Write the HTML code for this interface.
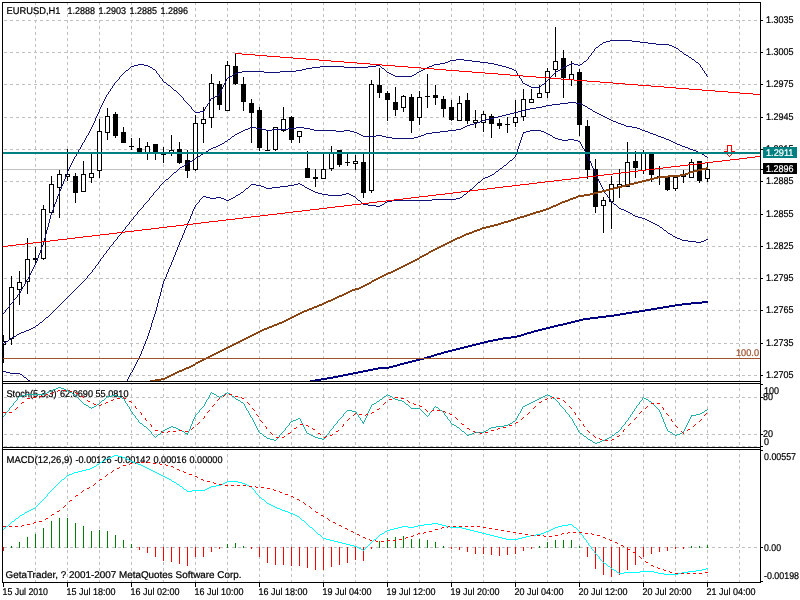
<!DOCTYPE html><html><head><meta charset="utf-8"><title>EURUSD,H1</title><style>html,body{margin:0;padding:0;background:#fff;}svg{display:block;will-change:transform}text{font-family:"Liberation Sans",sans-serif;font-size:9.8px;fill:#000;stroke:#000;stroke-width:.22px;text-rendering:geometricPrecision}</style></head><body>
<svg width="800" height="600" viewBox="0 0 800 600" shape-rendering="crispEdges">
<rect x="0" y="0" width="800" height="600" fill="#fff"/>
<g stroke="#c0c0c0" stroke-width="1" stroke-dasharray="3 3" fill="none">
<line x1="35.5" y1="2" x2="35.5" y2="381"/>
<line x1="35.5" y1="384" x2="35.5" y2="447" stroke-dashoffset="2"/>
<line x1="35.5" y1="450" x2="35.5" y2="582" stroke-dashoffset="2"/>
<line x1="67.5" y1="2" x2="67.5" y2="381"/>
<line x1="67.5" y1="384" x2="67.5" y2="447" stroke-dashoffset="2"/>
<line x1="67.5" y1="450" x2="67.5" y2="582" stroke-dashoffset="2"/>
<line x1="99.5" y1="2" x2="99.5" y2="381"/>
<line x1="99.5" y1="384" x2="99.5" y2="447" stroke-dashoffset="2"/>
<line x1="99.5" y1="450" x2="99.5" y2="582" stroke-dashoffset="2"/>
<line x1="131.5" y1="2" x2="131.5" y2="381"/>
<line x1="131.5" y1="384" x2="131.5" y2="447" stroke-dashoffset="2"/>
<line x1="131.5" y1="450" x2="131.5" y2="582" stroke-dashoffset="2"/>
<line x1="163.5" y1="2" x2="163.5" y2="381"/>
<line x1="163.5" y1="384" x2="163.5" y2="447" stroke-dashoffset="2"/>
<line x1="163.5" y1="450" x2="163.5" y2="582" stroke-dashoffset="2"/>
<line x1="195.5" y1="2" x2="195.5" y2="381"/>
<line x1="195.5" y1="384" x2="195.5" y2="447" stroke-dashoffset="2"/>
<line x1="195.5" y1="450" x2="195.5" y2="582" stroke-dashoffset="2"/>
<line x1="227.5" y1="2" x2="227.5" y2="381"/>
<line x1="227.5" y1="384" x2="227.5" y2="447" stroke-dashoffset="2"/>
<line x1="227.5" y1="450" x2="227.5" y2="582" stroke-dashoffset="2"/>
<line x1="259.5" y1="2" x2="259.5" y2="381"/>
<line x1="259.5" y1="384" x2="259.5" y2="447" stroke-dashoffset="2"/>
<line x1="259.5" y1="450" x2="259.5" y2="582" stroke-dashoffset="2"/>
<line x1="291.5" y1="2" x2="291.5" y2="381"/>
<line x1="291.5" y1="384" x2="291.5" y2="447" stroke-dashoffset="2"/>
<line x1="291.5" y1="450" x2="291.5" y2="582" stroke-dashoffset="2"/>
<line x1="323.5" y1="2" x2="323.5" y2="381"/>
<line x1="323.5" y1="384" x2="323.5" y2="447" stroke-dashoffset="2"/>
<line x1="323.5" y1="450" x2="323.5" y2="582" stroke-dashoffset="2"/>
<line x1="355.5" y1="2" x2="355.5" y2="381"/>
<line x1="355.5" y1="384" x2="355.5" y2="447" stroke-dashoffset="2"/>
<line x1="355.5" y1="450" x2="355.5" y2="582" stroke-dashoffset="2"/>
<line x1="387.5" y1="2" x2="387.5" y2="381"/>
<line x1="387.5" y1="384" x2="387.5" y2="447" stroke-dashoffset="2"/>
<line x1="387.5" y1="450" x2="387.5" y2="582" stroke-dashoffset="2"/>
<line x1="419.5" y1="2" x2="419.5" y2="381"/>
<line x1="419.5" y1="384" x2="419.5" y2="447" stroke-dashoffset="2"/>
<line x1="419.5" y1="450" x2="419.5" y2="582" stroke-dashoffset="2"/>
<line x1="451.5" y1="2" x2="451.5" y2="381"/>
<line x1="451.5" y1="384" x2="451.5" y2="447" stroke-dashoffset="2"/>
<line x1="451.5" y1="450" x2="451.5" y2="582" stroke-dashoffset="2"/>
<line x1="483.5" y1="2" x2="483.5" y2="381"/>
<line x1="483.5" y1="384" x2="483.5" y2="447" stroke-dashoffset="2"/>
<line x1="483.5" y1="450" x2="483.5" y2="582" stroke-dashoffset="2"/>
<line x1="515.5" y1="2" x2="515.5" y2="381"/>
<line x1="515.5" y1="384" x2="515.5" y2="447" stroke-dashoffset="2"/>
<line x1="515.5" y1="450" x2="515.5" y2="582" stroke-dashoffset="2"/>
<line x1="547.5" y1="2" x2="547.5" y2="381"/>
<line x1="547.5" y1="384" x2="547.5" y2="447" stroke-dashoffset="2"/>
<line x1="547.5" y1="450" x2="547.5" y2="582" stroke-dashoffset="2"/>
<line x1="579.5" y1="2" x2="579.5" y2="381"/>
<line x1="579.5" y1="384" x2="579.5" y2="447" stroke-dashoffset="2"/>
<line x1="579.5" y1="450" x2="579.5" y2="582" stroke-dashoffset="2"/>
<line x1="611.5" y1="2" x2="611.5" y2="381"/>
<line x1="611.5" y1="384" x2="611.5" y2="447" stroke-dashoffset="2"/>
<line x1="611.5" y1="450" x2="611.5" y2="582" stroke-dashoffset="2"/>
<line x1="643.5" y1="2" x2="643.5" y2="381"/>
<line x1="643.5" y1="384" x2="643.5" y2="447" stroke-dashoffset="2"/>
<line x1="643.5" y1="450" x2="643.5" y2="582" stroke-dashoffset="2"/>
<line x1="675.5" y1="2" x2="675.5" y2="381"/>
<line x1="675.5" y1="384" x2="675.5" y2="447" stroke-dashoffset="2"/>
<line x1="675.5" y1="450" x2="675.5" y2="582" stroke-dashoffset="2"/>
<line x1="707.5" y1="2" x2="707.5" y2="381"/>
<line x1="707.5" y1="384" x2="707.5" y2="447" stroke-dashoffset="2"/>
<line x1="707.5" y1="450" x2="707.5" y2="582" stroke-dashoffset="2"/>
<line x1="739.5" y1="2" x2="739.5" y2="381"/>
<line x1="739.5" y1="384" x2="739.5" y2="447" stroke-dashoffset="2"/>
<line x1="739.5" y1="450" x2="739.5" y2="582" stroke-dashoffset="2"/>
<line x1="4" y1="20.5" x2="760" y2="20.5"/>
<line x1="4" y1="52.5" x2="760" y2="52.5"/>
<line x1="4" y1="84.5" x2="760" y2="84.5"/>
<line x1="4" y1="117.5" x2="760" y2="117.5"/>
<line x1="4" y1="149.5" x2="760" y2="149.5"/>
<line x1="4" y1="181.5" x2="760" y2="181.5"/>
<line x1="4" y1="214.5" x2="760" y2="214.5"/>
<line x1="4" y1="246.5" x2="760" y2="246.5"/>
<line x1="4" y1="278.5" x2="760" y2="278.5"/>
<line x1="4" y1="310.5" x2="760" y2="310.5"/>
<line x1="4" y1="343.5" x2="760" y2="343.5"/>
<line x1="4" y1="375.5" x2="760" y2="375.5"/>
<line x1="4" y1="397.5" x2="760" y2="397.5"/>
<line x1="4" y1="434.5" x2="760" y2="434.5"/>
<line x1="4" y1="446.5" x2="760" y2="446.5"/>
<line x1="4" y1="547.5" x2="760" y2="547.5"/>
</g>
<rect x="3" y="169" width="757" height="1" fill="#c0c0c0"/>
<defs><clipPath id="cm"><rect x="3" y="3" width="757" height="378"/></clipPath><clipPath id="cs"><rect x="3" y="384" width="757" height="63"/></clipPath><clipPath id="cd"><rect x="3" y="450" width="757" height="132"/></clipPath></defs>
<g clip-path="url(#cm)">
<rect x="3" y="335" width="1" height="28" fill="#000"/>
<rect x="1" y="341" width="5" height="4" fill="#000"/>
<rect x="2" y="342" width="3" height="2" fill="#fff"/>
<rect x="11" y="276" width="1" height="69" fill="#000"/>
<rect x="9" y="287" width="5" height="52" fill="#000"/>
<rect x="10" y="288" width="3" height="50" fill="#fff"/>
<rect x="19" y="271" width="1" height="34" fill="#000"/>
<rect x="17" y="282" width="5" height="8" fill="#000"/>
<rect x="18" y="283" width="3" height="6" fill="#fff"/>
<rect x="27" y="238" width="1" height="56" fill="#000"/>
<rect x="25" y="259" width="5" height="23" fill="#000"/>
<rect x="26" y="260" width="3" height="21" fill="#fff"/>
<rect x="35" y="247" width="1" height="18" fill="#000"/>
<rect x="33" y="258" width="5" height="2" fill="#000"/>
<rect x="43" y="205" width="1" height="55" fill="#000"/>
<rect x="41" y="209" width="5" height="50" fill="#000"/>
<rect x="42" y="210" width="3" height="48" fill="#fff"/>
<rect x="51" y="176" width="1" height="37" fill="#000"/>
<rect x="49" y="184" width="5" height="29" fill="#000"/>
<rect x="50" y="185" width="3" height="27" fill="#fff"/>
<rect x="59" y="170" width="1" height="48" fill="#000"/>
<rect x="57" y="174" width="5" height="14" fill="#000"/>
<rect x="58" y="175" width="3" height="12" fill="#fff"/>
<rect x="67" y="149" width="1" height="32" fill="#000"/>
<rect x="65" y="174" width="5" height="3" fill="#000"/>
<rect x="66" y="175" width="3" height="1" fill="#fff"/>
<rect x="75" y="173" width="1" height="30" fill="#000"/>
<rect x="73" y="176" width="5" height="17" fill="#000"/>
<rect x="83" y="161" width="1" height="31" fill="#000"/>
<rect x="81" y="174" width="5" height="18" fill="#000"/>
<rect x="82" y="175" width="3" height="16" fill="#fff"/>
<rect x="91" y="154" width="1" height="29" fill="#000"/>
<rect x="89" y="173" width="5" height="5" fill="#000"/>
<rect x="90" y="174" width="3" height="3" fill="#fff"/>
<rect x="99" y="119" width="1" height="59" fill="#000"/>
<rect x="97" y="131" width="5" height="40" fill="#000"/>
<rect x="98" y="132" width="3" height="38" fill="#fff"/>
<rect x="107" y="108" width="1" height="32" fill="#000"/>
<rect x="105" y="116" width="5" height="17" fill="#000"/>
<rect x="106" y="117" width="3" height="15" fill="#fff"/>
<rect x="115" y="112" width="1" height="26" fill="#000"/>
<rect x="113" y="114" width="5" height="22" fill="#000"/>
<rect x="123" y="127" width="1" height="16" fill="#000"/>
<rect x="121" y="132" width="5" height="11" fill="#000"/>
<rect x="131" y="138" width="1" height="12" fill="#000"/>
<rect x="129" y="146" width="5" height="1" fill="#000"/>
<rect x="139" y="138" width="1" height="16" fill="#000"/>
<rect x="137" y="148" width="5" height="6" fill="#000"/>
<rect x="147" y="142" width="1" height="18" fill="#000"/>
<rect x="145" y="146" width="5" height="7" fill="#000"/>
<rect x="146" y="147" width="3" height="5" fill="#fff"/>
<rect x="155" y="144" width="1" height="16" fill="#000"/>
<rect x="153" y="144" width="5" height="9" fill="#000"/>
<rect x="163" y="147" width="1" height="16" fill="#000"/>
<rect x="161" y="154" width="5" height="1" fill="#000"/>
<rect x="171" y="135" width="1" height="21" fill="#000"/>
<rect x="169" y="150" width="5" height="4" fill="#000"/>
<rect x="170" y="151" width="3" height="2" fill="#fff"/>
<rect x="179" y="142" width="1" height="22" fill="#000"/>
<rect x="177" y="149" width="5" height="14" fill="#000"/>
<rect x="187" y="150" width="1" height="28" fill="#000"/>
<rect x="185" y="160" width="5" height="11" fill="#000"/>
<rect x="195" y="115" width="1" height="56" fill="#000"/>
<rect x="193" y="123" width="5" height="47" fill="#000"/>
<rect x="194" y="124" width="3" height="45" fill="#fff"/>
<rect x="203" y="107" width="1" height="36" fill="#000"/>
<rect x="201" y="119" width="5" height="5" fill="#000"/>
<rect x="202" y="120" width="3" height="3" fill="#fff"/>
<rect x="211" y="74" width="1" height="54" fill="#000"/>
<rect x="209" y="83" width="5" height="35" fill="#000"/>
<rect x="210" y="84" width="3" height="33" fill="#fff"/>
<rect x="219" y="81" width="1" height="29" fill="#000"/>
<rect x="217" y="84" width="5" height="21" fill="#000"/>
<rect x="227" y="61" width="1" height="50" fill="#000"/>
<rect x="225" y="65" width="5" height="46" fill="#000"/>
<rect x="226" y="66" width="3" height="44" fill="#fff"/>
<rect x="235" y="53" width="1" height="32" fill="#000"/>
<rect x="233" y="66" width="5" height="18" fill="#000"/>
<rect x="243" y="77" width="1" height="34" fill="#000"/>
<rect x="241" y="84" width="5" height="18" fill="#000"/>
<rect x="251" y="99" width="1" height="44" fill="#000"/>
<rect x="249" y="103" width="5" height="10" fill="#000"/>
<rect x="259" y="107" width="1" height="44" fill="#000"/>
<rect x="257" y="110" width="5" height="38" fill="#000"/>
<rect x="267" y="130" width="1" height="21" fill="#000"/>
<rect x="265" y="150" width="5" height="1" fill="#000"/>
<rect x="275" y="127" width="1" height="24" fill="#000"/>
<rect x="273" y="127" width="5" height="23" fill="#000"/>
<rect x="274" y="128" width="3" height="21" fill="#fff"/>
<rect x="283" y="107" width="1" height="25" fill="#000"/>
<rect x="281" y="119" width="5" height="12" fill="#000"/>
<rect x="282" y="120" width="3" height="10" fill="#fff"/>
<rect x="291" y="116" width="1" height="27" fill="#000"/>
<rect x="289" y="117" width="5" height="23" fill="#000"/>
<rect x="299" y="131" width="1" height="12" fill="#000"/>
<rect x="297" y="131" width="5" height="6" fill="#000"/>
<rect x="298" y="132" width="3" height="4" fill="#fff"/>
<rect x="307" y="151" width="1" height="27" fill="#000"/>
<rect x="305" y="168" width="5" height="10" fill="#000"/>
<rect x="315" y="169" width="1" height="18" fill="#000"/>
<rect x="313" y="177" width="5" height="2" fill="#000"/>
<rect x="323" y="154" width="1" height="25" fill="#000"/>
<rect x="321" y="169" width="5" height="10" fill="#000"/>
<rect x="322" y="170" width="3" height="8" fill="#fff"/>
<rect x="331" y="146" width="1" height="25" fill="#000"/>
<rect x="329" y="153" width="5" height="16" fill="#000"/>
<rect x="330" y="154" width="3" height="14" fill="#fff"/>
<rect x="339" y="150" width="1" height="17" fill="#000"/>
<rect x="337" y="150" width="5" height="15" fill="#000"/>
<rect x="347" y="154" width="1" height="12" fill="#000"/>
<rect x="345" y="162" width="5" height="1" fill="#000"/>
<rect x="355" y="155" width="1" height="15" fill="#000"/>
<rect x="353" y="161" width="5" height="3" fill="#000"/>
<rect x="354" y="162" width="3" height="1" fill="#fff"/>
<rect x="363" y="154" width="1" height="44" fill="#000"/>
<rect x="361" y="162" width="5" height="31" fill="#000"/>
<rect x="371" y="80" width="1" height="113" fill="#000"/>
<rect x="369" y="84" width="5" height="107" fill="#000"/>
<rect x="370" y="85" width="3" height="105" fill="#fff"/>
<rect x="379" y="68" width="1" height="30" fill="#000"/>
<rect x="377" y="85" width="5" height="8" fill="#000"/>
<rect x="387" y="91" width="1" height="30" fill="#000"/>
<rect x="385" y="93" width="5" height="7" fill="#000"/>
<rect x="395" y="87" width="1" height="29" fill="#000"/>
<rect x="393" y="102" width="5" height="8" fill="#000"/>
<rect x="403" y="95" width="1" height="17" fill="#000"/>
<rect x="401" y="96" width="5" height="12" fill="#000"/>
<rect x="402" y="97" width="3" height="10" fill="#fff"/>
<rect x="411" y="94" width="1" height="39" fill="#000"/>
<rect x="409" y="97" width="5" height="24" fill="#000"/>
<rect x="419" y="91" width="1" height="34" fill="#000"/>
<rect x="417" y="97" width="5" height="21" fill="#000"/>
<rect x="418" y="98" width="3" height="19" fill="#fff"/>
<rect x="427" y="74" width="1" height="34" fill="#000"/>
<rect x="425" y="96" width="5" height="1" fill="#000"/>
<rect x="435" y="85" width="1" height="20" fill="#000"/>
<rect x="433" y="95" width="5" height="3" fill="#000"/>
<rect x="443" y="96" width="1" height="21" fill="#000"/>
<rect x="441" y="99" width="5" height="10" fill="#000"/>
<rect x="451" y="100" width="1" height="21" fill="#000"/>
<rect x="449" y="107" width="5" height="13" fill="#000"/>
<rect x="459" y="96" width="1" height="25" fill="#000"/>
<rect x="457" y="103" width="5" height="18" fill="#000"/>
<rect x="458" y="104" width="3" height="16" fill="#fff"/>
<rect x="467" y="93" width="1" height="31" fill="#000"/>
<rect x="465" y="100" width="5" height="21" fill="#000"/>
<rect x="475" y="110" width="1" height="18" fill="#000"/>
<rect x="473" y="120" width="5" height="3" fill="#000"/>
<rect x="474" y="121" width="3" height="1" fill="#fff"/>
<rect x="483" y="111" width="1" height="21" fill="#000"/>
<rect x="481" y="114" width="5" height="9" fill="#000"/>
<rect x="482" y="115" width="3" height="7" fill="#fff"/>
<rect x="491" y="114" width="1" height="24" fill="#000"/>
<rect x="489" y="116" width="5" height="8" fill="#000"/>
<rect x="499" y="119" width="1" height="10" fill="#000"/>
<rect x="497" y="123" width="5" height="3" fill="#000"/>
<rect x="507" y="117" width="1" height="16" fill="#000"/>
<rect x="505" y="124" width="5" height="1" fill="#000"/>
<rect x="515" y="100" width="1" height="27" fill="#000"/>
<rect x="513" y="117" width="5" height="6" fill="#000"/>
<rect x="514" y="118" width="3" height="4" fill="#fff"/>
<rect x="523" y="89" width="1" height="32" fill="#000"/>
<rect x="521" y="99" width="5" height="18" fill="#000"/>
<rect x="522" y="100" width="3" height="16" fill="#fff"/>
<rect x="531" y="89" width="1" height="14" fill="#000"/>
<rect x="529" y="99" width="5" height="4" fill="#000"/>
<rect x="530" y="100" width="3" height="2" fill="#fff"/>
<rect x="539" y="85" width="1" height="13" fill="#000"/>
<rect x="537" y="93" width="5" height="5" fill="#000"/>
<rect x="538" y="94" width="3" height="3" fill="#fff"/>
<rect x="547" y="68" width="1" height="30" fill="#000"/>
<rect x="545" y="71" width="5" height="22" fill="#000"/>
<rect x="546" y="72" width="3" height="20" fill="#fff"/>
<rect x="555" y="27" width="1" height="50" fill="#000"/>
<rect x="553" y="61" width="5" height="9" fill="#000"/>
<rect x="554" y="62" width="3" height="7" fill="#fff"/>
<rect x="563" y="50" width="1" height="48" fill="#000"/>
<rect x="561" y="58" width="5" height="20" fill="#000"/>
<rect x="571" y="61" width="1" height="25" fill="#000"/>
<rect x="569" y="74" width="5" height="6" fill="#000"/>
<rect x="570" y="75" width="3" height="4" fill="#fff"/>
<rect x="579" y="69" width="1" height="67" fill="#000"/>
<rect x="577" y="72" width="5" height="53" fill="#000"/>
<rect x="587" y="120" width="1" height="59" fill="#000"/>
<rect x="585" y="126" width="5" height="44" fill="#000"/>
<rect x="595" y="159" width="1" height="54" fill="#000"/>
<rect x="593" y="169" width="5" height="38" fill="#000"/>
<rect x="603" y="197" width="1" height="36" fill="#000"/>
<rect x="601" y="200" width="5" height="6" fill="#000"/>
<rect x="602" y="201" width="3" height="4" fill="#fff"/>
<rect x="611" y="176" width="1" height="53" fill="#000"/>
<rect x="609" y="184" width="5" height="18" fill="#000"/>
<rect x="610" y="185" width="3" height="16" fill="#fff"/>
<rect x="619" y="169" width="1" height="29" fill="#000"/>
<rect x="617" y="184" width="5" height="4" fill="#000"/>
<rect x="618" y="185" width="3" height="2" fill="#fff"/>
<rect x="627" y="142" width="1" height="45" fill="#000"/>
<rect x="625" y="162" width="5" height="25" fill="#000"/>
<rect x="626" y="163" width="3" height="23" fill="#fff"/>
<rect x="635" y="151" width="1" height="27" fill="#000"/>
<rect x="633" y="161" width="5" height="7" fill="#000"/>
<rect x="643" y="150" width="1" height="24" fill="#000"/>
<rect x="641" y="152" width="5" height="19" fill="#000"/>
<rect x="642" y="153" width="3" height="17" fill="#fff"/>
<rect x="651" y="153" width="1" height="29" fill="#000"/>
<rect x="649" y="153" width="5" height="22" fill="#000"/>
<rect x="659" y="166" width="1" height="19" fill="#000"/>
<rect x="657" y="176" width="5" height="1" fill="#000"/>
<rect x="667" y="177" width="1" height="14" fill="#000"/>
<rect x="665" y="177" width="5" height="13" fill="#000"/>
<rect x="675" y="176" width="1" height="15" fill="#000"/>
<rect x="673" y="177" width="5" height="12" fill="#000"/>
<rect x="674" y="178" width="3" height="10" fill="#fff"/>
<rect x="683" y="170" width="1" height="13" fill="#000"/>
<rect x="681" y="174" width="5" height="3" fill="#000"/>
<rect x="691" y="159" width="1" height="19" fill="#000"/>
<rect x="689" y="162" width="5" height="16" fill="#000"/>
<rect x="690" y="163" width="3" height="14" fill="#fff"/>
<rect x="699" y="161" width="1" height="22" fill="#000"/>
<rect x="697" y="161" width="5" height="20" fill="#000"/>
<rect x="707" y="162" width="1" height="20" fill="#000"/>
<rect x="705" y="169" width="5" height="10" fill="#000"/>
<rect x="706" y="170" width="3" height="8" fill="#fff"/>
</g>
<path d="M610 40h22M606 41h4M632 41h8M603 42h3M640 42h8M602 43h1M648 43h8M600 44h2M656 44h13M599 45h1M669 45h3M598 46h1M672 46h2M596 47h2M674 47h2M595 48h1M676 48h2M594 49h1M678 49h1M594 50h1M679 50h1M593 51h1M680 51h2M592 52h1M682 52h1M591 53h1M683 53h1M591 54h1M684 54h2M590 55h1M686 55h2M589 56h1M688 56h1M588 57h1M689 57h2M588 58h1M691 58h1M456 59h8M587 59h1M692 59h2M450 60h6M464 60h8M586 60h1M694 60h1M448 61h2M472 61h8M584 61h2M695 61h1M445 62h3M480 62h8M583 62h1M696 62h2M440 63h5M488 63h6M571 63h3M582 63h1M698 63h1M138 64h6M434 64h6M494 64h4M569 64h2M574 64h4M580 64h2M699 64h1M134 65h4M144 65h4M376 65h4M432 65h2M498 65h4M567 65h2M578 65h2M700 65h1M131 66h3M148 66h2M320 66h24M368 66h8M380 66h1M429 66h3M502 66h4M565 66h2M700 66h1M130 67h1M150 67h2M312 67h8M344 67h24M381 67h1M427 67h2M506 67h3M563 67h2M701 67h1M129 68h1M152 68h1M306 68h6M382 68h2M425 68h2M509 68h3M561 68h2M702 68h1M128 69h1M153 69h2M302 69h4M384 69h1M423 69h2M512 69h2M560 69h1M702 69h1M126 70h2M155 70h1M296 70h6M385 70h1M421 70h2M514 70h2M558 70h2M703 70h1M125 71h1M156 71h1M242 71h22M280 71h16M386 71h1M419 71h2M516 71h1M556 71h2M704 71h1M124 72h1M156 72h1M238 72h4M264 72h16M387 72h2M417 72h2M516 72h1M555 72h1M704 72h1M123 73h1M157 73h1M235 73h3M389 73h2M416 73h1M517 73h1M554 73h1M705 73h1M122 74h1M158 74h1M233 74h2M391 74h2M414 74h2M517 74h1M553 74h1M706 74h1M121 75h1M159 75h1M232 75h1M393 75h2M412 75h2M518 75h1M552 75h1M706 75h1M120 76h1M159 76h1M230 76h2M395 76h17M519 76h1M551 76h1M707 76h1M119 77h1M160 77h1M228 77h2M519 77h1M550 77h1M119 78h1M161 78h1M227 78h1M520 78h1M549 78h1M118 79h1M162 79h1M226 79h1M521 79h1M548 79h1M117 80h1M162 80h1M226 80h1M521 80h1M547 80h1M116 81h1M163 81h1M225 81h1M522 81h1M546 81h1M115 82h1M164 82h2M225 82h1M522 82h1M545 82h1M114 83h1M166 83h1M224 83h1M523 83h2M544 83h1M114 84h1M167 84h1M224 84h1M525 84h2M542 84h2M113 85h1M168 85h2M223 85h1M527 85h2M541 85h1M112 86h1M170 86h1M223 86h1M529 86h2M540 86h1M112 87h1M171 87h1M222 87h1M531 87h9M111 88h1M172 88h1M222 88h1M110 89h1M173 89h1M221 89h1M110 90h1M174 90h2M221 90h1M109 91h1M176 91h1M220 91h1M108 92h1M177 92h1M220 92h1M108 93h1M178 93h1M219 93h1M107 94h1M179 94h1M219 94h1M106 95h1M180 95h1M217 95h2M106 96h1M181 96h1M215 96h2M105 97h1M182 97h1M213 97h2M105 98h1M183 98h1M211 98h2M104 99h1M183 99h1M210 99h1M104 100h1M184 100h1M210 100h1M103 101h1M185 101h1M209 101h1M103 102h1M186 102h1M209 102h1M102 103h1M187 103h1M208 103h1M102 104h1M188 104h1M207 104h1M101 105h1M189 105h1M207 105h1M101 106h1M190 106h1M206 106h1M100 107h1M191 107h1M205 107h1M100 108h1M191 108h1M205 108h1M99 109h1M192 109h1M204 109h1M99 110h1M193 110h1M204 110h1M99 111h1M194 111h1M200 111h4M98 112h1M195 112h5M98 113h1M97 114h1M97 115h1M96 116h1M96 117h1M95 118h1M95 119h1M95 120h1M94 121h1M94 122h1M93 123h1M93 124h1M92 125h1M92 126h1M91 127h1M91 128h1M90 129h1M90 130h1M89 131h1M89 132h1M88 133h1M88 134h1M87 135h1M86 136h1M86 137h1M85 138h1M85 139h1M84 140h1M84 141h1M83 142h1M82 143h1M82 144h1M81 145h1M81 146h1M80 147h1M80 148h1M79 149h1M78 150h1M78 151h1M77 152h1M77 153h1M76 154h1M76 155h1M75 156h1M74 157h1M74 158h1M73 159h1M73 160h1M72 161h1M72 162h1M71 163h1M71 164h1M70 165h1M70 166h1M69 167h1M69 168h1M68 169h1M68 170h1M67 171h1M67 172h1M67 173h1M66 174h1M66 175h1M65 176h1M65 177h1M65 178h1M64 179h1M64 180h1M63 181h1M63 182h1M63 183h1M62 184h1M62 185h1M61 186h1M61 187h1M61 188h1M60 189h1M60 190h1M59 191h1M59 192h1M59 193h1M58 194h1M58 195h1M57 196h1M57 197h1M57 198h1M56 199h1M56 200h1M56 201h1M55 202h1M55 203h1M54 204h1M54 205h1M54 206h1M53 207h1M53 208h1M53 209h1M52 210h1M52 211h1M51 212h1M51 213h1M51 214h1M50 215h1M50 216h1M50 217h1M50 218h1M49 219h1M49 220h1M49 221h1M49 222h1M48 223h1M48 224h1M48 225h1M48 226h1M47 227h1M47 228h1M47 229h1M46 230h1M46 231h1M46 232h1M46 233h1M45 234h1M45 235h1M45 236h1M45 237h1M44 238h1M44 239h1M44 240h1M44 241h1M43 242h1M43 243h1M43 244h1M42 245h1M42 246h1M41 247h1M41 248h1M41 249h1M40 250h1M40 251h1M40 252h1M39 253h1M39 254h1M38 255h1M38 256h1M38 257h1M37 258h1M37 259h1M37 260h1M36 261h1M36 262h1M35 263h1M35 264h1M34 265h1M34 266h1M33 267h1M33 268h1M32 269h1M32 270h1M31 271h1M31 272h1M30 273h1M30 274h1M29 275h1M29 276h1M28 277h1M28 278h1M27 279h1M26 280h1M26 281h1M25 282h1M25 283h1M24 284h1M24 285h1M23 286h1M22 287h1M22 288h1M21 289h1M21 290h1M20 291h1M20 292h1M19 293h1M18 294h1M17 295h1M17 296h1M16 297h1M15 298h1M14 299h1M13 300h1M13 301h1M12 302h1M11 303h1M10 304h1M9 305h1M9 306h1M8 307h1M7 308h1M6 309h1M5 310h1M5 311h1M4 312h1M3 313h1" transform="translate(0,.5)" stroke="#101078" stroke-width="1" fill="none"/>
<path d="M568 102h8M560 103h8M576 103h5M552 104h8M581 104h2M546 105h6M583 105h2M542 106h4M585 106h2M536 107h6M587 107h1M530 108h6M588 108h2M526 109h4M590 109h2M522 110h4M592 110h1M518 111h4M593 111h2M514 112h4M595 112h2M510 113h4M597 113h2M506 114h4M599 114h2M502 115h4M601 115h2M498 116h4M603 116h2M494 117h4M605 117h2M490 118h4M607 118h2M486 119h4M609 119h2M482 120h4M611 120h2M480 121h2M613 121h3M477 122h3M616 122h2M474 123h3M618 123h3M470 124h4M621 124h3M467 125h3M624 125h2M465 126h2M626 126h6M250 127h6M296 127h8M463 127h2M632 127h5M248 128h2M256 128h6M288 128h8M304 128h6M461 128h2M637 128h3M245 129h3M262 129h4M272 129h16M310 129h4M456 129h5M640 129h2M243 130h2M266 130h6M314 130h22M344 130h6M448 130h8M642 130h3M241 131h2M336 131h8M350 131h4M440 131h8M645 131h3M239 132h2M354 132h3M432 132h8M648 132h2M237 133h2M357 133h2M426 133h6M650 133h3M235 134h2M359 134h2M424 134h2M653 134h3M234 135h1M361 135h2M376 135h6M421 135h3M656 135h2M232 136h2M363 136h13M382 136h4M418 136h3M658 136h3M231 137h1M386 137h6M414 137h4M661 137h3M230 138h1M392 138h22M664 138h2M228 139h2M666 139h3M227 140h1M669 140h2M225 141h2M671 141h2M224 142h1M673 142h2M222 143h2M675 143h2M220 144h2M677 144h3M218 145h2M680 145h2M216 146h2M682 146h3M213 147h3M685 147h3M211 148h2M688 148h2M209 149h2M690 149h3M208 150h1M693 150h3M206 151h2M696 151h2M204 152h2M698 152h2M203 153h1M700 153h2M201 154h2M702 154h2M200 155h1M704 155h1M198 156h2M705 156h2M196 157h2M707 157h1M195 158h1M193 159h2M192 160h1M190 161h2M188 162h2M187 163h1M185 164h2M184 165h1M182 166h2M180 167h2M179 168h1M178 169h1M177 170h1M176 171h1M174 172h2M173 173h1M172 174h1M171 175h1M170 176h1M169 177h1M168 178h1M166 179h2M165 180h1M164 181h1M163 182h1M162 183h1M161 184h1M160 185h1M159 186h1M159 187h1M158 188h1M157 189h1M156 190h1M155 191h1M154 192h1M153 193h1M153 194h1M152 195h1M151 196h1M150 197h1M149 198h1M149 199h1M148 200h1M147 201h1M146 202h1M145 203h1M144 204h1M143 205h1M143 206h1M142 207h1M141 208h1M140 209h1M139 210h1M138 211h1M137 212h1M137 213h1M136 214h1M135 215h1M134 216h1M133 217h1M133 218h1M132 219h1M131 220h1M130 221h1M129 222h1M129 223h1M128 224h1M127 225h1M126 226h1M125 227h1M125 228h1M124 229h1M123 230h1M122 231h1M121 232h1M121 233h1M120 234h1M119 235h1M118 236h1M117 237h1M117 238h1M116 239h1M115 240h1M114 241h1M113 242h1M113 243h1M112 244h1M111 245h1M110 246h1M109 247h1M109 248h1M108 249h1M107 250h1M106 251h1M106 252h1M105 253h1M104 254h1M103 255h1M103 256h1M102 257h1M101 258h1M100 259h1M100 260h1M99 261h1M98 262h1M98 263h1M97 264h1M96 265h1M95 266h1M95 267h1M94 268h1M93 269h1M92 270h1M92 271h1M91 272h1M90 273h1M89 274h1M88 275h1M87 276h1M87 277h1M86 278h1M85 279h1M84 280h1M83 281h1M82 282h1M81 283h1M80 284h1M79 285h1M78 286h1M77 287h1M76 288h1M75 289h1M74 290h1M73 291h1M72 292h1M71 293h1M70 294h1M69 295h1M68 296h1M67 297h1M66 298h1M65 299h1M64 300h1M63 301h1M62 302h1M61 303h1M60 304h1M59 305h1M58 306h1M57 307h1M56 308h1M55 309h1M54 310h1M53 311h1M52 312h1M51 313h1M50 314h1M49 315h1M48 316h1M46 317h2M45 318h1M44 319h1M43 320h1M42 321h1M40 322h2M39 323h1M38 324h1M36 325h2M35 326h1M33 327h2M31 328h2M29 329h2M26 330h3M24 331h2M21 332h3M19 333h2M17 334h2M16 335h1M14 336h2M12 337h2M11 338h1M9 339h2M8 340h1M6 341h2M4 342h2M3 343h1" transform="translate(0,.5)" stroke="#101078" stroke-width="1" fill="none"/>
<path d="M530 130h11M526 131h4M541 131h3M523 132h3M544 132h2M523 133h1M546 133h2M522 134h1M548 134h2M522 135h1M550 135h2M522 136h1M552 136h1M521 137h1M553 137h2M521 138h1M555 138h3M521 139h1M558 139h4M568 139h6M520 140h1M562 140h6M574 140h4M520 141h1M578 141h2M520 142h1M580 142h1M519 143h1M580 143h1M519 144h1M581 144h1M519 145h1M581 145h1M518 146h1M582 146h1M518 147h1M582 147h1M518 148h1M583 148h1M517 149h1M584 149h1M517 150h1M584 150h1M517 151h1M585 151h1M516 152h1M585 152h1M516 153h1M586 153h1M516 154h1M586 154h1M515 155h1M587 155h1M515 156h1M587 156h1M514 157h1M588 157h1M513 158h1M588 158h1M512 159h1M589 159h1M510 160h2M589 160h1M509 161h1M590 161h1M508 162h1M590 162h1M507 163h1M591 163h1M506 164h1M591 164h1M504 165h2M591 165h1M503 166h1M592 166h1M502 167h1M592 167h1M500 168h2M593 168h1M499 169h1M593 169h1M498 170h1M594 170h1M496 171h2M594 171h1M495 172h1M595 172h1M494 173h1M595 173h1M492 174h2M595 174h1M490 175h2M596 175h1M488 176h2M596 176h1M485 177h3M597 177h1M483 178h2M597 178h1M482 179h1M598 179h1M481 180h1M598 180h1M480 181h1M599 181h1M478 182h2M599 182h1M298 183h2M477 183h1M600 183h1M251 184h5M294 184h4M300 184h2M476 184h1M600 184h1M250 185h1M256 185h5M288 185h6M302 185h2M475 185h1M601 185h1M249 186h1M261 186h3M280 186h8M304 186h1M474 186h1M601 186h1M248 187h1M264 187h2M272 187h8M305 187h2M473 187h1M602 187h1M246 188h2M266 188h6M307 188h2M472 188h1M602 188h1M245 189h1M309 189h2M470 189h2M603 189h1M244 190h1M311 190h2M469 190h1M603 190h1M243 191h1M313 191h2M468 191h1M604 191h1M241 192h2M315 192h3M467 192h1M604 192h1M240 193h1M318 193h4M346 193h3M466 193h1M605 193h1M238 194h2M322 194h6M342 194h4M349 194h2M464 194h2M606 194h1M236 195h2M328 195h14M351 195h2M463 195h1M607 195h1M203 196h3M235 196h1M353 196h2M462 196h1M607 196h1M202 197h1M206 197h4M216 197h5M233 197h2M355 197h1M460 197h2M608 197h1M201 198h1M210 198h6M221 198h3M231 198h2M356 198h1M456 198h4M609 198h1M200 199h1M224 199h2M229 199h2M357 199h1M432 199h24M610 199h1M199 200h1M226 200h3M358 200h2M392 200h40M610 200h1M199 201h1M360 201h1M387 201h5M611 201h1M198 202h1M361 202h1M385 202h2M612 202h1M197 203h1M362 203h1M384 203h1M613 203h1M196 204h1M363 204h5M382 204h2M614 204h2M195 205h1M368 205h8M380 205h2M616 205h1M195 206h1M376 206h4M617 206h1M194 207h1M618 207h1M194 208h1M619 208h2M193 209h1M621 209h3M193 210h1M624 210h2M192 211h1M626 211h2M192 212h1M628 212h2M192 213h1M630 213h2M191 214h1M632 214h1M191 215h1M633 215h2M190 216h1M635 216h3M190 217h1M638 217h4M190 218h1M642 218h3M189 219h1M645 219h2M189 220h1M647 220h2M188 221h1M649 221h2M188 222h1M651 222h2M187 223h1M653 223h2M187 224h1M655 224h2M187 225h1M657 225h2M186 226h1M659 226h1M186 227h1M660 227h2M185 228h1M662 228h1M185 229h1M663 229h1M184 230h1M664 230h2M184 231h1M666 231h1M184 232h1M667 232h1M183 233h1M668 233h2M183 234h1M670 234h2M182 235h1M672 235h1M182 236h1M673 236h2M182 237h1M675 237h2M181 238h1M677 238h3M181 239h1M680 239h2M706 239h2M180 240h1M682 240h6M704 240h2M180 241h1M688 241h8M701 241h3M179 242h1M696 242h5M179 243h1M179 244h1M178 245h1M178 246h1M177 247h1M177 248h1M177 249h1M176 250h1M176 251h1M175 252h1M175 253h1M175 254h1M174 255h1M174 256h1M173 257h1M173 258h1M173 259h1M172 260h1M172 261h1M171 262h1M171 263h1M171 264h1M170 265h1M170 266h1M169 267h1M169 268h1M168 269h1M168 270h1M168 271h1M167 272h1M167 273h1M166 274h1M166 275h1M166 276h1M165 277h1M165 278h1M164 279h1M164 280h1M163 281h1M163 282h1M163 283h1M162 284h1M162 285h1M162 286h1M162 287h1M161 288h1M161 289h1M161 290h1M161 291h1M160 292h1M160 293h1M160 294h1M160 295h1M159 296h1M159 297h1M159 298h1M158 299h1M158 300h1M158 301h1M158 302h1M157 303h1M157 304h1M157 305h1M157 306h1M156 307h1M156 308h1M156 309h1M156 310h1M155 311h1M155 312h1M155 313h1M154 314h1M154 315h1M154 316h1M153 317h1M153 318h1M153 319h1M152 320h1M152 321h1M152 322h1M151 323h1M151 324h1M151 325h1M151 326h1M150 327h1M150 328h1M150 329h1M149 330h1M149 331h1M149 332h1M148 333h1M148 334h1M148 335h1M147 336h1M147 337h1M147 338h1M146 339h1M146 340h1M145 341h1M145 342h1M145 343h1M144 344h1M144 345h1M143 346h1M143 347h1M143 348h1M142 349h1M142 350h1M141 351h1M141 352h1M141 353h1M140 354h1M140 355h1M139 356h1M139 357h1M138 358h1M138 359h1M137 360h1M137 361h1M136 362h1M136 363h1M135 364h1M135 365h1M134 366h1M134 367h1M133 368h1M133 369h1M132 370h1M3 371h3M132 371h1M6 372h4M131 372h1M10 373h10M130 373h1M20 374h2M130 374h1M22 375h1M129 375h1M23 376h1M129 376h1M24 377h2M128 377h1M26 378h1M128 378h1M27 379h1M127 379h1M28 380h2M127 380h1" transform="translate(0,.5)" stroke="#101078" stroke-width="1" fill="none"/>
<path d="M706 167h2M702 168h6M698 169h8M694 170h8M690 171h8M688 172h6M685 173h5M680 174h8M668 175h17M658 176h22M654 177h14M650 178h8M646 179h8M642 180h8M638 181h8M634 182h8M630 183h8M626 184h8M622 185h8M618 186h8M614 187h8M610 188h8M606 189h8M602 190h8M598 191h8M594 192h8M590 193h8M584 194h10M578 195h12M576 196h8M573 197h5M570 198h6M568 199h5M565 200h5M562 201h6M560 202h5M558 203h4M556 204h4M553 205h5M551 206h5M549 207h4M546 208h5M543 209h6M540 210h6M536 211h7M533 212h7M530 213h6M527 214h6M524 215h6M520 216h7M517 217h7M514 218h6M511 219h6M508 220h6M504 221h7M501 222h7M498 223h6M494 224h7M490 225h8M486 226h8M482 227h8M480 228h6M477 229h5M474 230h6M472 231h5M469 232h5M466 233h6M464 234h5M462 235h4M460 236h4M457 237h5M455 238h5M453 239h4M451 240h4M449 241h4M447 242h4M445 243h4M443 244h4M441 245h4M439 246h4M437 247h4M435 248h4M433 249h4M431 250h4M429 251h4M428 252h3M426 253h3M424 254h4M422 255h4M420 256h4M419 257h3M417 258h3M415 259h4M413 260h4M411 261h4M409 262h4M407 263h4M405 264h4M403 265h4M401 266h4M399 267h4M397 268h4M395 269h4M393 270h4M391 271h4M388 272h5M386 273h5M384 274h4M382 275h4M380 276h4M378 277h4M376 278h4M374 279h4M372 280h4M371 281h3M369 282h3M367 283h4M365 284h4M363 285h4M361 286h4M359 287h4M355 288h6M352 289h7M350 290h5M348 291h4M346 292h4M344 293h4M342 294h4M339 295h5M337 296h5M335 297h4M333 298h4M331 299h4M328 300h5M326 301h5M324 302h4M322 303h4M319 304h5M317 305h5M314 306h5M312 307h5M309 308h5M307 309h5M304 310h5M302 311h5M300 312h4M298 313h4M296 314h4M294 315h4M292 316h4M290 317h4M288 318h4M286 319h4M284 320h4M282 321h4M279 322h5M277 323h5M274 324h5M272 325h5M269 326h5M267 327h5M264 328h5M262 329h5M260 330h4M258 331h4M256 332h4M254 333h4M252 334h4M250 335h4M248 336h4M246 337h4M244 338h4M242 339h4M240 340h4M238 341h4M236 342h4M234 343h4M232 344h4M230 345h4M228 346h4M226 347h4M224 348h4M222 349h4M220 350h4M218 351h4M216 352h4M214 353h4M212 354h4M210 355h4M208 356h4M206 357h4M204 358h4M202 359h4M200 360h4M198 361h4M196 362h4M195 363h3M193 364h3M191 365h4M189 366h4M186 367h5M184 368h5M182 369h4M179 370h5M177 371h5M175 372h4M173 373h4M171 374h4M169 375h4M167 376h4M165 377h4M161 378h6M155 379h10M150 380h11" transform="translate(0,.5)" stroke="#8b4513" stroke-width="1" fill="none"/>
<path d="M702 301h6M691 302h17M682 303h20M675 304h16M669 305h13M663 306h12M657 307h12M651 308h12M645 309h12M639 310h12M632 311h13M626 312h13M620 313h12M614 314h12M606 315h14M598 316h16M590 317h16M583 318h15M579 319h11M575 320h8M571 321h8M567 322h8M563 323h8M558 324h9M554 325h9M550 326h8M546 327h8M542 328h8M538 329h8M534 330h8M531 331h7M527 332h7M524 333h7M521 334h6M517 335h7M511 336h10M503 337h14M498 338h13M493 339h10M488 340h10M484 341h9M480 342h8M476 343h8M472 344h8M468 345h8M464 346h8M460 347h8M456 348h8M452 349h8M448 350h8M444 351h8M441 352h7M437 353h7M434 354h7M431 355h6M427 356h7M424 357h7M420 358h7M416 359h8M412 360h8M408 361h8M404 362h8M400 363h8M397 364h7M393 365h7M389 366h8M378 367h15M373 368h16M368 369h10M363 370h10M358 371h10M353 372h10M348 373h10M343 374h10M338 375h10M333 376h10M327 377h11M321 378h12M315 379h12M310 380h11" transform="translate(0,.5)" stroke="#000080" stroke-width="1" fill="none"/>
<rect x="3" y="358" width="757" height="1" fill="#a0522d"/>
<path d="M235 53h7M242 54h13M255 55h12M267 56h13M280 57h13M293 58h13M306 59h13M319 60h12M331 61h13M344 62h13M357 63h13M370 64h12M382 65h13M395 66h13M408 67h13M421 68h13M434 69h12M446 70h13M459 71h13M472 72h13M485 73h13M498 74h12M510 75h13M523 76h13M536 77h13M549 78h12M561 79h13M574 80h13M587 81h13M600 82h13M613 83h12M625 84h13M638 85h13M651 86h13M664 87h12M676 88h13M689 89h13M702 90h13M715 91h13M728 92h12M740 93h13M753 94h7" transform="translate(0,.5)" stroke="#ff0000" stroke-width="1" fill="none"/>
<path d="M755 156h5M747 157h8M739 158h8M730 159h9M722 160h8M713 161h9M705 162h8M697 163h8M688 164h9M680 165h8M671 166h9M663 167h8M655 168h8M646 169h9M638 170h8M629 171h9M621 172h8M613 173h8M604 174h9M596 175h8M587 176h9M579 177h8M571 178h8M562 179h9M554 180h8M545 181h9M537 182h8M529 183h8M520 184h9M512 185h8M503 186h9M495 187h8M487 188h8M478 189h9M470 190h8M461 191h9M453 192h8M445 193h8M436 194h9M428 195h8M419 196h9M411 197h8M403 198h8M394 199h9M386 200h8M377 201h9M369 202h8M361 203h8M352 204h9M344 205h8M335 206h9M327 207h8M319 208h8M310 209h9M302 210h8M293 211h9M285 212h8M277 213h8M268 214h9M260 215h8M251 216h9M243 217h8M235 218h8M226 219h9M218 220h8M209 221h9M201 222h8M193 223h8M184 224h9M176 225h8M167 226h9M159 227h8M151 228h8M142 229h9M134 230h8M125 231h9M117 232h8M109 233h8M100 234h9M92 235h8M83 236h9M75 237h8M67 238h8M58 239h9M50 240h8M41 241h9M33 242h8M25 243h8M16 244h9M8 245h8M3 246h5" transform="translate(0,.5)" stroke="#ff0000" stroke-width="1" fill="none"/>
<path d="M727.5 145.5H731.5V151.5H734.5L729.5 156.5L724.5 151.5H727.5Z" fill="none" stroke="#ff0000" stroke-width="1"/>
<rect x="3" y="152" width="757" height="2" fill="#008080"/>
<text x="6.5" y="14" textLength="54" lengthAdjust="spacingAndGlyphs">EURUSD,H1</text>
<text x="67.5" y="14" textLength="27.5" lengthAdjust="spacingAndGlyphs">1.2888</text>
<text x="98.5" y="14" textLength="27.5" lengthAdjust="spacingAndGlyphs">1.2903</text>
<text x="129.5" y="14" textLength="27.5" lengthAdjust="spacingAndGlyphs">1.2885</text>
<text x="160.5" y="14" textLength="27.5" lengthAdjust="spacingAndGlyphs">1.2896</text>
<text x="6.5" y="397" textLength="50" lengthAdjust="spacingAndGlyphs">Stoch(5,3,3)</text>
<text x="60" y="397" textLength="33" lengthAdjust="spacingAndGlyphs">62.0690</text>
<text x="95.5" y="397" textLength="33" lengthAdjust="spacingAndGlyphs">55.0810</text>
<text x="6.5" y="463" textLength="66" lengthAdjust="spacingAndGlyphs">MACD(12,26,9)</text>
<text x="75.5" y="463" textLength="36" lengthAdjust="spacingAndGlyphs">-0.00126</text>
<text x="114.5" y="463" textLength="36" lengthAdjust="spacingAndGlyphs">-0.00142</text>
<text x="153.5" y="463" textLength="33" lengthAdjust="spacingAndGlyphs">0.00016</text>
<text x="189.5" y="463" textLength="33" lengthAdjust="spacingAndGlyphs">0.00000</text>
<text x="5.5" y="578" textLength="236" lengthAdjust="spacingAndGlyphs">GetaTrader, ? 2001-2007 MetaQuotes Software Corp.</text>
<path d="M58 387h3M56 388h2M61 388h3M53 389h3M64 389h2M51 390h2M66 390h2M49 391h2M68 391h2M47 392h2M70 392h2M211 392h1M227 392h1M45 393h2M72 393h1M210 393h1M212 393h2M225 393h2M228 393h2M26 394h19M73 394h2M210 394h1M214 394h2M224 394h1M230 394h1M387 394h1M547 394h1M22 395h4M75 395h1M112 395h5M209 395h1M216 395h1M222 395h2M231 395h1M386 395h1M388 395h2M545 395h2M548 395h2M19 396h3M76 396h1M107 396h5M117 396h3M209 396h1M217 396h2M220 396h2M232 396h2M384 396h2M390 396h2M543 396h2M550 396h2M18 397h1M77 397h1M106 397h1M120 397h2M208 397h1M219 397h1M234 397h1M383 397h1M392 397h1M541 397h2M552 397h1M643 397h1M17 398h1M78 398h1M105 398h1M122 398h2M208 398h1M235 398h1M382 398h1M393 398h2M539 398h2M553 398h2M642 398h1M644 398h2M17 399h1M79 399h1M104 399h1M124 399h1M207 399h1M236 399h2M380 399h2M395 399h3M537 399h2M555 399h1M642 399h1M646 399h2M16 400h1M80 400h1M102 400h2M124 400h1M206 400h1M238 400h2M379 400h1M398 400h4M535 400h2M556 400h1M641 400h1M648 400h1M15 401h1M81 401h1M101 401h1M125 401h1M206 401h1M240 401h1M377 401h2M402 401h2M533 401h2M557 401h1M640 401h1M649 401h2M14 402h1M82 402h1M100 402h1M125 402h1M205 402h1M241 402h2M376 402h1M404 402h1M531 402h2M558 402h1M639 402h1M651 402h1M13 403h1M83 403h1M99 403h1M126 403h1M205 403h1M243 403h1M374 403h2M405 403h1M529 403h2M559 403h1M639 403h1M652 403h1M13 404h1M84 404h2M97 404h2M127 404h1M204 404h1M244 404h1M372 404h2M406 404h2M527 404h2M559 404h1M638 404h1M653 404h1M12 405h1M86 405h2M96 405h1M127 405h1M204 405h1M244 405h1M371 405h1M408 405h1M525 405h2M560 405h1M637 405h1M654 405h1M11 406h1M88 406h1M94 406h2M128 406h1M203 406h1M245 406h1M371 406h1M409 406h1M435 406h1M523 406h2M561 406h1M636 406h1M655 406h1M10 407h1M89 407h2M92 407h2M129 407h1M202 407h1M245 407h1M370 407h1M410 407h1M434 407h1M436 407h2M522 407h1M562 407h1M636 407h1M656 407h1M9 408h1M91 408h1M129 408h1M201 408h1M246 408h1M370 408h1M411 408h9M433 408h1M438 408h1M522 408h1M563 408h1M635 408h1M657 408h1M9 409h1M130 409h1M200 409h1M246 409h1M369 409h1M420 409h1M433 409h1M439 409h1M521 409h1M564 409h1M634 409h1M658 409h1M707 409h1M8 410h1M130 410h1M199 410h1M247 410h1M347 410h5M369 410h1M421 410h1M432 410h1M440 410h2M521 410h1M565 410h1M634 410h1M659 410h1M705 410h2M7 411h1M131 411h1M199 411h1M248 411h1M346 411h1M352 411h4M368 411h1M422 411h1M431 411h1M442 411h1M520 411h1M565 411h1M633 411h1M659 411h1M704 411h1M6 412h1M132 412h1M198 412h1M248 412h1M345 412h1M356 412h1M368 412h1M423 412h1M430 412h1M443 412h1M520 412h1M566 412h1M632 412h1M660 412h1M702 412h2M5 413h1M132 413h1M197 413h1M249 413h1M344 413h1M356 413h1M367 413h1M424 413h1M429 413h1M444 413h1M519 413h1M567 413h1M632 413h1M660 413h1M700 413h2M5 414h1M133 414h1M196 414h1M249 414h1M343 414h1M357 414h1M367 414h1M425 414h1M429 414h1M444 414h1M518 414h1M568 414h1M631 414h1M661 414h1M696 414h4M4 415h1M134 415h1M195 415h1M250 415h1M343 415h1M358 415h1M367 415h1M426 415h1M428 415h1M445 415h1M518 415h1M569 415h1M630 415h1M661 415h1M691 415h5M3 416h1M135 416h1M195 416h1M250 416h1M342 416h1M358 416h1M366 416h1M427 416h1M446 416h1M517 416h1M569 416h1M630 416h1M661 416h1M691 416h1M135 417h1M194 417h1M251 417h1M341 417h1M359 417h1M366 417h1M447 417h1M517 417h1M570 417h1M629 417h1M662 417h1M690 417h1M136 418h1M194 418h1M252 418h1M298 418h2M340 418h1M360 418h1M365 418h1M447 418h1M516 418h1M571 418h1M628 418h1M662 418h1M690 418h1M137 419h1M193 419h1M252 419h1M296 419h2M300 419h1M339 419h1M360 419h1M365 419h1M448 419h1M516 419h1M572 419h1M628 419h1M663 419h1M689 419h1M138 420h1M193 420h1M253 420h1M293 420h3M300 420h1M338 420h1M361 420h1M364 420h1M449 420h1M515 420h1M572 420h1M627 420h1M663 420h1M689 420h1M138 421h1M192 421h1M253 421h1M291 421h2M301 421h1M337 421h1M362 421h1M364 421h1M450 421h1M513 421h2M573 421h1M626 421h1M663 421h1M688 421h1M139 422h1M192 422h1M254 422h1M290 422h1M301 422h1M337 422h1M362 422h2M450 422h1M512 422h1M573 422h1M625 422h1M664 422h1M688 422h1M140 423h2M192 423h1M254 423h1M289 423h1M302 423h1M336 423h1M363 423h1M451 423h1M510 423h2M574 423h1M625 423h1M664 423h1M687 423h1M142 424h1M191 424h1M255 424h1M289 424h1M302 424h1M335 424h1M452 424h2M508 424h2M574 424h1M624 424h1M665 424h1M687 424h1M143 425h1M191 425h1M255 425h1M288 425h1M303 425h1M334 425h1M454 425h2M504 425h4M575 425h1M623 425h1M665 425h1M686 425h1M144 426h2M171 426h2M190 426h1M256 426h1M287 426h1M303 426h1M333 426h1M456 426h1M496 426h8M576 426h1M622 426h1M665 426h1M686 426h1M146 427h1M169 427h2M173 427h3M190 427h1M256 427h1M286 427h1M304 427h1M333 427h1M457 427h2M491 427h5M576 427h1M621 427h1M666 427h1M685 427h1M147 428h1M167 428h2M176 428h2M190 428h1M257 428h1M285 428h1M304 428h1M332 428h1M459 428h1M489 428h2M577 428h1M621 428h1M666 428h1M685 428h1M148 429h1M165 429h2M178 429h2M189 429h1M257 429h1M285 429h1M305 429h1M331 429h1M460 429h1M488 429h1M577 429h1M620 429h1M667 429h1M684 429h1M149 430h1M163 430h2M180 430h2M189 430h1M258 430h1M284 430h1M305 430h1M330 430h1M461 430h1M486 430h2M578 430h1M619 430h1M667 430h1M684 430h1M150 431h1M162 431h1M182 431h2M188 431h1M258 431h1M283 431h1M306 431h1M329 431h1M462 431h2M484 431h2M578 431h1M618 431h1M668 431h2M683 431h1M151 432h1M161 432h1M184 432h1M188 432h1M259 432h1M282 432h1M306 432h1M329 432h1M464 432h1M474 432h10M579 432h1M616 432h2M670 432h2M682 432h2M151 433h1M160 433h1M185 433h3M260 433h2M281 433h1M307 433h2M328 433h1M465 433h1M472 433h2M580 433h2M615 433h1M672 433h1M680 433h2M152 434h1M158 434h2M187 434h1M262 434h1M280 434h1M309 434h2M327 434h1M466 434h1M469 434h3M582 434h1M614 434h1M673 434h2M677 434h3M153 435h1M157 435h1M263 435h1M279 435h1M311 435h2M326 435h1M467 435h2M583 435h1M612 435h2M675 435h2M154 436h1M156 436h1M264 436h2M279 436h1M313 436h2M325 436h1M584 436h2M611 436h1M155 437h1M266 437h1M278 437h1M315 437h3M325 437h1M586 437h1M609 437h2M267 438h3M277 438h1M318 438h4M324 438h1M587 438h1M607 438h2M270 439h4M276 439h1M322 439h2M588 439h2M605 439h2M274 440h2M590 440h2M602 440h3M592 441h1M600 441h2M593 442h2M597 442h3M595 443h2" transform="translate(0,.5)" stroke="#20b2aa" stroke-width="1" fill="none"/>
<path d="M58 390h2M63 390h3M69 390h1M57 391h1M70 391h2M53 392h1M75 392h1M51 393h2M76 393h2M46 394h2M225 394h1M229 394h3M45 395h1M224 395h1M39 396h3M81 396h2M223 396h1M235 396h3M33 397h3M83 397h1M123 397h1M241 397h1M395 397h3M552 397h2M27 398h3M117 398h3M124 398h2M219 398h1M242 398h2M401 398h3M547 398h1M551 398h1M557 398h3M113 399h1M218 399h1M389 399h3M545 399h2M87 400h1M111 400h2M217 400h1M407 400h1M563 400h1M88 401h2M129 401h2M408 401h1M541 401h1M564 401h1M22 402h2M106 402h2M131 402h1M247 402h1M385 402h1M409 402h1M539 402h2M565 402h1M21 403h1M93 403h1M105 403h1M248 403h1M384 403h1M413 403h1M651 403h3M657 403h3M94 404h2M101 404h1M214 404h1M249 404h1M383 404h1M414 404h2M99 405h2M213 405h1M419 405h1M135 406h1M212 406h1M420 406h2M535 406h1M569 406h1M647 406h1M17 407h1M135 407h1M534 407h1M570 407h1M646 407h1M662 407h1M16 408h1M136 408h1M252 408h1M379 408h1M533 408h1M571 408h1M645 408h1M663 408h1M15 409h1M253 409h1M377 409h2M425 409h1M663 409h1M209 410h1M254 410h1M426 410h1M432 410h2M437 410h3M208 411h1M427 411h1M431 411h1M443 411h2M641 411h1M3 412h3M9 412h3M140 412h1M207 412h1M372 412h2M445 412h1M529 412h1M574 412h1M640 412h1M141 413h1M355 413h1M371 413h1M449 413h1M528 413h1M575 413h1M639 413h1M666 413h1M706 413h1M141 414h1M256 414h1M354 414h1M359 414h3M366 414h2M450 414h2M527 414h1M575 414h1M667 414h1M705 414h1M257 415h1M353 415h1M365 415h1M668 415h1M704 415h1M204 416h1M258 416h1M204 417h1M455 417h1M523 417h1M636 417h1M145 418h1M203 418h1M349 418h1M456 418h1M522 418h1M578 418h1M635 418h1M145 419h1M348 419h1M457 419h1M521 419h1M579 419h1M634 419h1M671 419h1M701 419h1M146 420h1M260 420h1M347 420h1M580 420h1M671 420h1M700 420h1M261 421h1M672 421h1M699 421h1M199 422h1M262 422h1M516 422h2M198 423h1M461 423h1M515 423h1M630 423h1M150 424h1M197 424h1M300 424h3M343 424h1M462 424h2M583 424h1M629 424h1M695 424h1M151 425h1M306 425h2M343 425h1M509 425h3M583 425h1M628 425h1M675 425h1M694 425h1M151 426h1M265 426h1M308 426h1M342 426h1M584 426h1M676 426h1M693 426h1M193 427h1M266 427h1M296 427h1M503 427h3M677 427h1M192 428h1M266 428h1M294 428h2M312 428h1M467 428h2M498 428h2M191 429h1M313 429h2M469 429h1M497 429h1M624 429h1M688 429h2M155 430h3M179 430h3M338 430h1M491 430h3M587 430h1M623 430h1M687 430h1M161 431h1M168 431h2M173 431h3M185 431h3M336 431h2M473 431h2M588 431h1M623 431h1M681 431h1M162 432h2M167 432h1M270 432h1M290 432h1M475 432h1M479 432h1M485 432h3M589 432h1M682 432h1M271 433h1M288 433h2M318 433h2M480 433h2M683 433h1M272 434h1M320 434h1M332 434h1M330 435h2M593 435h1M619 435h1M284 436h1M326 436h1M594 436h1M617 436h2M276 437h3M282 437h2M324 437h2M595 437h1M599 438h1M600 439h2M612 439h2M605 440h3M611 440h1" transform="translate(0,.5)" stroke="#ff0000" stroke-width="1" fill="none"/>
<rect x="3" y="547" width="1" height="4" fill="#ff0000"/>
<rect x="11" y="546" width="1" height="2" fill="#008000"/>
<rect x="19" y="542" width="1" height="6" fill="#008000"/>
<rect x="27" y="537" width="1" height="11" fill="#008000"/>
<rect x="35" y="534" width="1" height="14" fill="#008000"/>
<rect x="43" y="528" width="1" height="20" fill="#008000"/>
<rect x="51" y="521" width="1" height="27" fill="#008000"/>
<rect x="59" y="518" width="1" height="30" fill="#008000"/>
<rect x="67" y="518" width="1" height="30" fill="#008000"/>
<rect x="75" y="523" width="1" height="25" fill="#008000"/>
<rect x="83" y="526" width="1" height="22" fill="#008000"/>
<rect x="91" y="531" width="1" height="17" fill="#008000"/>
<rect x="99" y="530" width="1" height="18" fill="#008000"/>
<rect x="107" y="531" width="1" height="17" fill="#008000"/>
<rect x="115" y="535" width="1" height="13" fill="#008000"/>
<rect x="123" y="540" width="1" height="8" fill="#008000"/>
<rect x="131" y="544" width="1" height="4" fill="#008000"/>
<rect x="139" y="547" width="1" height="3" fill="#ff0000"/>
<rect x="147" y="547" width="1" height="6" fill="#ff0000"/>
<rect x="155" y="547" width="1" height="10" fill="#ff0000"/>
<rect x="163" y="547" width="1" height="14" fill="#ff0000"/>
<rect x="171" y="547" width="1" height="15" fill="#ff0000"/>
<rect x="179" y="547" width="1" height="17" fill="#ff0000"/>
<rect x="187" y="547" width="1" height="19" fill="#ff0000"/>
<rect x="195" y="547" width="1" height="10" fill="#ff0000"/>
<rect x="203" y="547" width="1" height="10" fill="#ff0000"/>
<rect x="211" y="547" width="1" height="5" fill="#ff0000"/>
<rect x="219" y="547" width="1" height="2" fill="#ff0000"/>
<rect x="227" y="544" width="1" height="4" fill="#008000"/>
<rect x="235" y="543" width="1" height="5" fill="#008000"/>
<rect x="243" y="546" width="1" height="2" fill="#008000"/>
<rect x="251" y="547" width="1" height="2" fill="#ff0000"/>
<rect x="259" y="547" width="1" height="10" fill="#ff0000"/>
<rect x="267" y="547" width="1" height="16" fill="#ff0000"/>
<rect x="275" y="547" width="1" height="18" fill="#ff0000"/>
<rect x="283" y="547" width="1" height="18" fill="#ff0000"/>
<rect x="291" y="547" width="1" height="19" fill="#ff0000"/>
<rect x="299" y="547" width="1" height="19" fill="#ff0000"/>
<rect x="307" y="547" width="1" height="21" fill="#ff0000"/>
<rect x="315" y="547" width="1" height="23" fill="#ff0000"/>
<rect x="323" y="547" width="1" height="23" fill="#ff0000"/>
<rect x="331" y="547" width="1" height="20" fill="#ff0000"/>
<rect x="339" y="547" width="1" height="18" fill="#ff0000"/>
<rect x="347" y="547" width="1" height="16" fill="#ff0000"/>
<rect x="355" y="547" width="1" height="13" fill="#ff0000"/>
<rect x="363" y="547" width="1" height="14" fill="#ff0000"/>
<rect x="371" y="547" width="1" height="2" fill="#ff0000"/>
<rect x="379" y="541" width="1" height="7" fill="#008000"/>
<rect x="387" y="538" width="1" height="10" fill="#008000"/>
<rect x="395" y="537" width="1" height="11" fill="#008000"/>
<rect x="403" y="536" width="1" height="12" fill="#008000"/>
<rect x="411" y="539" width="1" height="9" fill="#008000"/>
<rect x="419" y="539" width="1" height="9" fill="#008000"/>
<rect x="427" y="540" width="1" height="8" fill="#008000"/>
<rect x="435" y="542" width="1" height="6" fill="#008000"/>
<rect x="443" y="546" width="1" height="2" fill="#008000"/>
<rect x="451" y="547" width="1" height="2" fill="#ff0000"/>
<rect x="459" y="547" width="1" height="3" fill="#ff0000"/>
<rect x="467" y="547" width="1" height="5" fill="#ff0000"/>
<rect x="475" y="547" width="1" height="7" fill="#ff0000"/>
<rect x="483" y="547" width="1" height="7" fill="#ff0000"/>
<rect x="491" y="547" width="1" height="8" fill="#ff0000"/>
<rect x="499" y="547" width="1" height="9" fill="#ff0000"/>
<rect x="507" y="547" width="1" height="8" fill="#ff0000"/>
<rect x="515" y="547" width="1" height="7" fill="#ff0000"/>
<rect x="523" y="547" width="1" height="4" fill="#ff0000"/>
<rect x="531" y="547" width="1" height="2" fill="#ff0000"/>
<rect x="539" y="546" width="1" height="2" fill="#008000"/>
<rect x="547" y="542" width="1" height="6" fill="#008000"/>
<rect x="555" y="540" width="1" height="8" fill="#008000"/>
<rect x="563" y="540" width="1" height="8" fill="#008000"/>
<rect x="571" y="540" width="1" height="8" fill="#008000"/>
<rect x="579" y="546" width="1" height="2" fill="#008000"/>
<rect x="587" y="547" width="1" height="10" fill="#ff0000"/>
<rect x="595" y="547" width="1" height="22" fill="#ff0000"/>
<rect x="603" y="547" width="1" height="28" fill="#ff0000"/>
<rect x="611" y="547" width="1" height="30" fill="#ff0000"/>
<rect x="619" y="547" width="1" height="28" fill="#ff0000"/>
<rect x="627" y="547" width="1" height="23" fill="#ff0000"/>
<rect x="635" y="547" width="1" height="18" fill="#ff0000"/>
<rect x="643" y="547" width="1" height="10" fill="#ff0000"/>
<rect x="651" y="547" width="1" height="7" fill="#ff0000"/>
<rect x="659" y="547" width="1" height="5" fill="#ff0000"/>
<rect x="667" y="547" width="1" height="4" fill="#ff0000"/>
<rect x="675" y="547" width="1" height="2" fill="#ff0000"/>
<rect x="683" y="547" width="1" height="2" fill="#ff0000"/>
<rect x="691" y="546" width="1" height="2" fill="#008000"/>
<rect x="699" y="546" width="1" height="2" fill="#008000"/>
<rect x="707" y="545" width="1" height="3" fill="#008000"/>
<path d="M114 455h4M112 456h2M118 456h4M109 457h3M122 457h3M107 458h2M125 458h2M105 459h2M127 459h2M104 460h1M129 460h2M102 461h2M131 461h2M100 462h2M133 462h3M99 463h1M136 463h2M97 464h2M138 464h3M96 465h1M141 465h2M94 466h2M143 466h2M92 467h2M145 467h2M90 468h2M147 468h2M86 469h4M149 469h2M82 470h4M151 470h2M78 471h4M153 471h2M74 472h4M155 472h2M72 473h2M157 473h2M69 474h3M159 474h2M67 475h2M161 475h2M66 476h1M163 476h2M65 477h1M165 477h2M64 478h1M167 478h2M62 479h2M169 479h2M61 480h1M171 480h1M60 481h1M172 481h2M227 481h11M59 482h1M174 482h2M225 482h2M238 482h4M58 483h1M176 483h1M223 483h2M242 483h3M57 484h1M177 484h2M221 484h2M245 484h2M56 485h1M179 485h1M216 485h5M247 485h2M55 486h1M180 486h2M211 486h5M249 486h2M54 487h1M182 487h1M209 487h2M251 487h1M53 488h1M183 488h1M207 488h2M252 488h1M52 489h1M184 489h2M205 489h2M253 489h1M51 490h1M186 490h1M192 490h13M254 490h1M50 491h1M187 491h5M255 491h1M49 492h1M255 492h1M48 493h1M256 493h1M47 494h1M257 494h1M47 495h1M258 495h1M46 496h1M259 496h1M45 497h1M260 497h1M44 498h1M261 498h1M43 499h1M262 499h2M42 500h1M264 500h1M41 501h1M265 501h1M40 502h1M266 502h1M39 503h1M267 503h2M38 504h1M269 504h2M37 505h1M271 505h2M36 506h1M273 506h2M35 507h1M275 507h2M33 508h2M277 508h3M31 509h2M280 509h2M29 510h2M282 510h3M27 511h2M285 511h3M25 512h2M288 512h2M24 513h1M290 513h3M22 514h2M293 514h2M20 515h2M295 515h2M19 516h1M297 516h2M18 517h1M299 517h1M16 518h2M300 518h1M15 519h1M301 519h1M14 520h1M302 520h2M12 521h2M304 521h1M11 522h1M305 522h1M10 523h1M306 523h1M432 523h6M9 524h1M307 524h1M424 524h8M438 524h4M568 524h4M8 525h1M308 525h1M418 525h6M442 525h4M562 525h6M572 525h1M6 526h2M309 526h1M402 526h6M414 526h4M446 526h4M558 526h4M573 526h1M5 527h1M310 527h2M398 527h4M408 527h6M450 527h12M555 527h3M574 527h2M4 528h1M312 528h1M394 528h4M462 528h4M553 528h2M576 528h1M3 529h1M313 529h1M390 529h4M466 529h4M551 529h2M577 529h1M314 530h1M387 530h3M470 530h4M549 530h2M578 530h1M315 531h1M385 531h2M474 531h4M546 531h3M579 531h1M316 532h1M384 532h1M478 532h4M544 532h2M580 532h1M317 533h1M382 533h2M482 533h4M541 533h3M580 533h1M318 534h2M380 534h2M486 534h4M536 534h5M581 534h1M320 535h1M379 535h1M490 535h4M530 535h6M582 535h1M321 536h1M378 536h1M494 536h4M526 536h4M583 536h1M322 537h1M377 537h1M498 537h4M522 537h4M583 537h1M323 538h3M376 538h1M502 538h4M518 538h4M584 538h1M326 539h4M374 539h2M506 539h12M585 539h1M330 540h4M373 540h1M586 540h1M334 541h4M372 541h1M586 541h1M338 542h4M371 542h1M587 542h1M342 543h4M370 543h1M588 543h1M346 544h4M369 544h1M588 544h1M350 545h4M368 545h1M589 545h1M354 546h3M367 546h1M590 546h1M357 547h2M366 547h1M591 547h1M359 548h2M365 548h1M591 548h1M361 549h2M364 549h1M592 549h1M363 550h1M593 550h1M594 551h1M594 552h1M595 553h1M596 554h1M597 555h1M598 556h1M599 557h1M599 558h1M600 559h1M601 560h1M602 561h1M603 562h1M604 563h2M606 564h1M607 565h1M608 566h2M610 567h1M611 568h1M706 568h2M612 569h2M702 569h4M614 570h2M696 570h6M616 571h1M640 571h14M688 571h8M617 572h2M624 572h16M654 572h4M682 572h6M619 573h5M658 573h6M678 573h4M664 574h14" transform="translate(0,.5)" stroke="#00ffff" stroke-width="1" fill="none"/>
<path d="M136 462h2M141 462h3M147 462h3M130 463h2M135 463h1M153 463h3M159 463h1M129 464h1M160 464h2M165 464h1M123 465h3M166 465h2M171 466h2M119 467h1M173 467h1M117 468h2M177 469h2M113 470h1M179 470h1M112 471h1M183 471h1M111 472h1M184 472h2M107 474h1M189 474h3M106 475h1M105 476h1M195 476h2M197 477h1M100 479h2M201 479h2M99 480h1M203 480h1M207 481h3M213 482h1M95 483h1M214 483h2M94 484h1M219 484h3M93 485h1M225 485h3M231 485h3M237 485h3M243 485h3M249 486h3M255 486h1M89 487h1M256 487h2M261 487h3M87 488h2M267 488h3M273 489h1M83 490h1M274 490h2M82 491h1M279 491h1M81 492h1M280 492h2M285 494h3M76 495h2M75 496h1M291 496h2M293 497h1M297 499h2M70 500h2M299 500h1M69 501h1M303 502h1M304 503h1M305 504h1M65 505h1M64 506h1M309 506h1M63 507h1M310 507h1M311 508h1M59 510h1M57 511h2M315 511h1M316 512h2M52 514h2M51 515h1M321 515h2M323 516h1M46 518h2M327 518h1M45 519h1M328 519h1M329 520h1M39 521h3M34 522h2M333 522h2M33 523h1M335 523h1M27 524h3M22 525h2M339 525h2M3 526h3M9 526h3M15 526h3M21 526h1M341 526h1M448 526h2M453 526h3M459 526h3M465 526h3M471 526h3M477 526h3M442 527h2M447 527h1M483 527h3M345 528h2M441 528h1M489 528h3M347 529h1M435 529h3M495 529h3M501 530h3M351 531h2M429 531h3M507 531h3M353 532h1M424 532h2M513 532h3M568 532h2M573 532h3M579 532h3M418 533h2M423 533h1M519 533h3M562 533h2M567 533h1M585 533h3M591 533h1M357 534h2M417 534h1M525 534h3M561 534h1M592 534h2M359 535h1M413 535h1M531 535h3M537 535h3M543 535h1M555 535h3M597 535h3M411 536h2M544 536h2M549 536h3M363 537h2M406 537h2M603 537h2M365 538h1M405 538h1M605 538h1M369 539h1M399 539h3M609 539h1M370 540h2M375 540h1M387 540h3M393 540h3M610 540h2M376 541h2M381 541h3M615 542h2M617 543h1M621 545h2M623 546h1M627 548h1M628 549h2M633 552h2M635 553h1M639 556h1M640 557h1M641 558h1M645 561h1M646 562h2M651 565h2M653 566h1M657 567h1M658 568h2M663 569h1M664 570h2M669 571h1M670 572h2M705 572h3M675 573h3M681 573h3M687 573h3M693 573h3M699 573h3" transform="translate(0,.5)" stroke="#ff0000" stroke-width="1" fill="none"/>
<rect x="2" y="2" width="759" height="1" fill="#000"/>
<rect x="2" y="2" width="1" height="581" fill="#000"/>
<rect x="760" y="2" width="1" height="581" fill="#000"/>
<rect x="2" y="381" width="759" height="1" fill="#000"/>
<rect x="2" y="383" width="759" height="1" fill="#000"/>
<rect x="2" y="447" width="759" height="1" fill="#000"/>
<rect x="2" y="449" width="759" height="1" fill="#000"/>
<rect x="2" y="582" width="759" height="1" fill="#000"/>
<rect x="761" y="20" width="2" height="1" fill="#000"/>
<text x="766" y="23" textLength="27.5" lengthAdjust="spacingAndGlyphs">1.3035</text>
<rect x="761" y="52" width="2" height="1" fill="#000"/>
<text x="766" y="55" textLength="27.5" lengthAdjust="spacingAndGlyphs">1.3005</text>
<rect x="761" y="84" width="2" height="1" fill="#000"/>
<text x="766" y="87" textLength="27.5" lengthAdjust="spacingAndGlyphs">1.2975</text>
<rect x="761" y="117" width="2" height="1" fill="#000"/>
<text x="766" y="120" textLength="27.5" lengthAdjust="spacingAndGlyphs">1.2945</text>
<rect x="761" y="149" width="2" height="1" fill="#000"/>
<text x="766" y="152" textLength="27.5" lengthAdjust="spacingAndGlyphs">1.2915</text>
<rect x="761" y="181" width="2" height="1" fill="#000"/>
<text x="766" y="184" textLength="27.5" lengthAdjust="spacingAndGlyphs">1.2885</text>
<rect x="761" y="214" width="2" height="1" fill="#000"/>
<text x="766" y="217" textLength="27.5" lengthAdjust="spacingAndGlyphs">1.2855</text>
<rect x="761" y="246" width="2" height="1" fill="#000"/>
<text x="766" y="249" textLength="27.5" lengthAdjust="spacingAndGlyphs">1.2825</text>
<rect x="761" y="278" width="2" height="1" fill="#000"/>
<text x="766" y="281" textLength="27.5" lengthAdjust="spacingAndGlyphs">1.2795</text>
<rect x="761" y="310" width="2" height="1" fill="#000"/>
<text x="766" y="313" textLength="27.5" lengthAdjust="spacingAndGlyphs">1.2765</text>
<rect x="761" y="343" width="2" height="1" fill="#000"/>
<text x="766" y="346" textLength="27.5" lengthAdjust="spacingAndGlyphs">1.2735</text>
<rect x="761" y="375" width="2" height="1" fill="#000"/>
<text x="766" y="378" textLength="27.5" lengthAdjust="spacingAndGlyphs">1.2705</text>
<rect x="763" y="147" width="34" height="11" fill="#008080"/>
<text x="766" y="156" textLength="27.5" lengthAdjust="spacingAndGlyphs" style="fill:#fff;stroke:#fff">1.2911</text>
<rect x="763" y="163" width="34" height="11" fill="#000"/>
<text x="766" y="172" textLength="27.5" lengthAdjust="spacingAndGlyphs" style="fill:#fff;stroke:#fff">1.2896</text>
<text x="736" y="356" textLength="23" lengthAdjust="spacingAndGlyphs" style="fill:#a0522d;stroke:#a0522d">100.0</text>
<rect x="761" y="169" width="2" height="1" fill="#000"/>
<rect x="761" y="384" width="2" height="1" fill="#000"/>
<rect x="761" y="397" width="2" height="1" fill="#000"/>
<rect x="761" y="434" width="2" height="1" fill="#000"/>
<rect x="761" y="446" width="2" height="1" fill="#000"/>
<rect x="761" y="450" width="2" height="1" fill="#000"/>
<rect x="761" y="547" width="2" height="1" fill="#000"/>
<rect x="761" y="581" width="2" height="1" fill="#000"/>
<text x="764" y="394" textLength="15" lengthAdjust="spacingAndGlyphs">100</text>
<text x="763" y="400" textLength="10" lengthAdjust="spacingAndGlyphs">80</text>
<text x="763" y="437" textLength="10" lengthAdjust="spacingAndGlyphs">20</text>
<text x="764" y="445" textLength="5" lengthAdjust="spacingAndGlyphs">0</text>
<text x="764" y="460" textLength="32" lengthAdjust="spacingAndGlyphs">0.00557</text>
<text x="764" y="551" textLength="17" lengthAdjust="spacingAndGlyphs">0.00</text>
<text x="764" y="579" textLength="35" lengthAdjust="spacingAndGlyphs">-0.00198</text>
<rect x="3" y="583" width="1" height="4" fill="#000"/>
<text x="2.5" y="595" textLength="45.5" lengthAdjust="spacingAndGlyphs">15 Jul 2010</text>
<rect x="67" y="583" width="1" height="4" fill="#000"/>
<text x="66.5" y="595" textLength="49" lengthAdjust="spacingAndGlyphs">15 Jul 18:00</text>
<rect x="131" y="583" width="1" height="4" fill="#000"/>
<text x="130.5" y="595" textLength="49" lengthAdjust="spacingAndGlyphs">16 Jul 02:00</text>
<rect x="195" y="583" width="1" height="4" fill="#000"/>
<text x="194.5" y="595" textLength="49" lengthAdjust="spacingAndGlyphs">16 Jul 10:00</text>
<rect x="259" y="583" width="1" height="4" fill="#000"/>
<text x="258.5" y="595" textLength="49" lengthAdjust="spacingAndGlyphs">16 Jul 18:00</text>
<rect x="323" y="583" width="1" height="4" fill="#000"/>
<text x="322.5" y="595" textLength="49" lengthAdjust="spacingAndGlyphs">19 Jul 04:00</text>
<rect x="387" y="583" width="1" height="4" fill="#000"/>
<text x="386.5" y="595" textLength="49" lengthAdjust="spacingAndGlyphs">19 Jul 12:00</text>
<rect x="451" y="583" width="1" height="4" fill="#000"/>
<text x="450.5" y="595" textLength="49" lengthAdjust="spacingAndGlyphs">19 Jul 20:00</text>
<rect x="515" y="583" width="1" height="4" fill="#000"/>
<text x="514.5" y="595" textLength="49" lengthAdjust="spacingAndGlyphs">20 Jul 04:00</text>
<rect x="579" y="583" width="1" height="4" fill="#000"/>
<text x="578.5" y="595" textLength="49" lengthAdjust="spacingAndGlyphs">20 Jul 12:00</text>
<rect x="643" y="583" width="1" height="4" fill="#000"/>
<text x="642.5" y="595" textLength="49" lengthAdjust="spacingAndGlyphs">20 Jul 20:00</text>
<rect x="707" y="583" width="1" height="4" fill="#000"/>
<text x="706.5" y="595" textLength="49" lengthAdjust="spacingAndGlyphs">21 Jul 04:00</text>
</svg></body></html>
